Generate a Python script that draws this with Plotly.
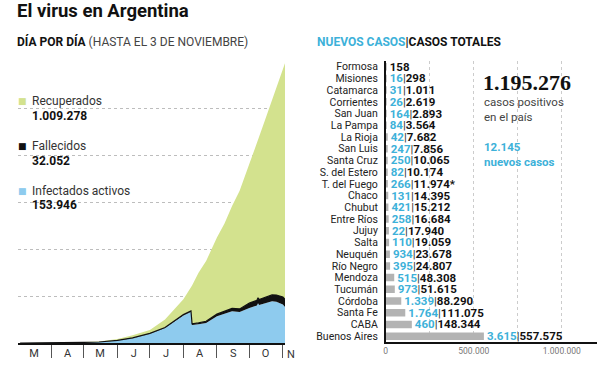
import plotly.graph_objects as go

# ---------------- Datos: evolución diaria ----------------
fechas = ["2020-03-03", "2020-03-15", "2020-04-01", "2020-04-15", "2020-05-01",
          "2020-05-15", "2020-06-01", "2020-06-15", "2020-07-01", "2020-07-15",
          "2020-08-01", "2020-08-08", "2020-08-09", "2020-08-15", "2020-08-22",
          "2020-09-01", "2020-09-08", "2020-09-15", "2020-09-22", "2020-10-01",
          "2020-10-08", "2020-10-09", "2020-10-10", "2020-10-15", "2020-10-22",
          "2020-10-26", "2020-11-01", "2020-11-03"]
activos = [1, 50, 800, 1700, 2800, 4100, 11000, 21000, 40000, 64000,
           118000, 133000, 77000, 80000, 86000, 114000, 126000, 136000, 132000, 150000,
           160000, 170000, 162000, 170000, 178000, 176000, 165000, 153946]
fallecidos = [0, 2, 27, 111, 218, 353, 539, 854, 1300, 2000,
              3600, 4600, 4700, 5800, 7000, 9300, 10700, 12100, 13700, 20300,
              22700, 23200, 23600, 25300, 27500, 28900, 31100, 32052]
recuperados = [0, 4, 227, 632, 1410, 2681, 5476, 10931, 14700, 34000,
               65400, 102400, 164300, 214200, 257000, 326700, 373300, 436900, 504300, 594700,
               667300, 676800, 694400, 749700, 834500, 885100, 973900, 1009278]

inicios_mes = ["2020-04-01", "2020-05-01", "2020-06-01", "2020-07-01",
               "2020-08-01", "2020-09-01", "2020-10-01", "2020-11-01"]
centros_mes = ["2020-03-16", "2020-04-16", "2020-05-16", "2020-06-16",
               "2020-07-16", "2020-08-16", "2020-09-16", "2020-10-16"]
letras_mes = ["M", "A", "M", "J", "J", "A", "S", "O"]

# ---------------- Datos: provincias ----------------
provincias = ["Formosa", "Misiones", "Catamarca", "Corrientes", "San Juan", "La Pampa",
              "La Rioja", "San Luis", "Santa Cruz", "S. del Estero", "T. del Fuego",
              "Chaco", "Chubut", "Entre Ríos", "Jujuy", "Salta", "Neuquén", "Río Negro",
              "Mendoza", "Tucumán", "Córdoba", "Santa Fe", "CABA", "Buenos Aires"]
nuevos = [None, 16, 31, 26, 164, 84, 42, 247, 250, 82, 266, 131, 421, 258, 22, 110,
          934, 395, 515, 973, 1339, 1764, 460, 3615]
totales = [158, 298, 1011, 2619, 2893, 3564, 7682, 7856, 10065, 10174, 11974, 14395,
           15212, 16684, 17940, 19059, 23678, 24807, 48308, 51615, 88290, 111075,
           148344, 557575]
notas = ["", "", "", "", "", "", "", "", "", "", "*", "", "", "", "", "", "", "", "",
         "", "", "", "", ""]

eje_x2_vals = [0, 500000, 1000000]
eje_x2_text = ["0", "500.000", "1.000.000"]

total_pais = 1195276
nuevos_pais = 12145

# ---------------- Estilos ----------------
FONT = "Roboto"
GREEN = "#d3e28e"
BLUE = "#8ecbee"
BLACK = "#111111"
CYAN = "#3db1d9"
GRAY = "#b3b3b3"
W, H = 600, 365


def fmt(n):
    return f"{n:,}".replace(",", ".")


def px_x(p):
    return p / W


def px_y(p):
    return 1 - p / H


textos = []
for n, t, a in zip(nuevos, totales, notas):
    if n is None:
        textos.append(fmt(t) + a)
    else:
        textos.append(f"<span style='color:{CYAN}'>{fmt(n)}</span>"
                      f"<span style='font-weight:normal;color:#333'>|</span>{fmt(t)}{a}")

fig = go.Figure()

fig.add_trace(go.Scatter(x=fechas, y=activos, stackgroup="one", mode="lines",
                         line=dict(width=0, color=BLUE), fillcolor=BLUE,
                         name="Infectados activos", xaxis="x", yaxis="y"))
fig.add_trace(go.Scatter(x=fechas, y=fallecidos, stackgroup="one", mode="lines",
                         line=dict(width=1.2, color=BLACK), fillcolor=BLACK,
                         name="Fallecidos", xaxis="x", yaxis="y"))
fig.add_trace(go.Scatter(x=fechas, y=recuperados, stackgroup="one", mode="lines",
                         line=dict(width=0, color=GREEN), fillcolor=GREEN,
                         name="Recuperados", xaxis="x", yaxis="y"))
# invisible trace carrying the month-letter axis
fig.add_trace(go.Scatter(x=[fechas[0]], y=[0], mode="markers", marker=dict(opacity=0),
                         hoverinfo="skip", showlegend=False, xaxis="x3", yaxis="y"))

fig.add_trace(go.Bar(x=totales, y=provincias, orientation="h", marker_color=GRAY,
                     marker_line_width=0, width=0.64,
                     text=textos, textposition="outside", constraintext="none",
                     cliponaxis=False,
                     textfont=dict(family=FONT, size=11.5, color=BLACK, weight="bold"),
                     xaxis="x2", yaxis="y2"))

fig.update_layout(
    width=W, height=H, margin=dict(l=0, r=0, t=0, b=0),
    paper_bgcolor="white", plot_bgcolor="white", showlegend=False,
    font=dict(family=FONT, color="#222"),
    xaxis=dict(domain=[px_x(16), px_x(284)], type="date",
               range=["2020-03-01", "2020-11-03"], anchor="y",
               showline=True, linecolor=BLACK, linewidth=1.5,
               tickmode="array", tickvals=inicios_mes, showticklabels=False,
               ticks="outside", ticklen=13, tickcolor="#555", tickwidth=1,
               showgrid=False, zeroline=False),
    xaxis3=dict(domain=[px_x(16), px_x(284)], type="date", overlaying="x",
                range=["2020-03-01", "2020-11-03"], anchor="y", side="bottom",
                showline=False, tickmode="array", tickvals=centros_mes,
                ticktext=letras_mes, ticks="", showgrid=False, zeroline=False,
                tickfont=dict(size=11, color="#333"), ticklabelstandoff=2),
    yaxis=dict(domain=[px_y(344), px_y(62)], range=[0, 1200000], anchor="x",
               showticklabels=False, showgrid=True, gridcolor="#bdbdbd",
               griddash="dot", gridwidth=1, tick0=0, dtick=200000,
               zeroline=False, showline=False, ticks=""),
    xaxis2=dict(domain=[px_x(385), px_x(597)], range=[0, 1200000], anchor="y2",
                showline=True, linecolor=BLACK, linewidth=1.5,
                tickmode="array", tickvals=eje_x2_vals, ticktext=eje_x2_text,
                ticks="", tickfont=dict(size=8.5, color="#777"),
                showgrid=True, gridcolor="#cccccc", griddash="dot", zeroline=False,
                minor=dict(tickmode="array", tickvals=[250000, 750000], showgrid=True,
                           gridcolor="#cccccc", griddash="dot", ticks="")),
    yaxis2=dict(domain=[px_y(343), px_y(61)], anchor="x2", autorange="reversed",
                showline=True, linecolor=BLACK, linewidth=1.5, ticks="",
                tickmode="array", tickvals=provincias,
                showgrid=False, tickfont=dict(size=10.5, color="#222"),
                ticklabelstandoff=4),
)

# White covers behind text blocks (hide gridlines as in the original)
fig.add_shape(type="rect", xref="paper", yref="paper",
              x0=px_x(16), x1=px_x(148), y0=px_y(218), y1=px_y(85),
              fillcolor="white", line=dict(width=0), layer="between")
fig.add_shape(type="rect", xref="paper", yref="paper",
              x0=px_x(478), x1=1, y0=px_y(184), y1=px_y(58),
              fillcolor="white", line=dict(width=0), layer="between")

ann = []


def add(text, x, y, size, color="#222", family=FONT, xanchor="left", yanchor="middle",
        **kw):
    ann.append(dict(text=text, x=x, y=y, xref="paper", yref="paper", showarrow=False,
                    xanchor=xanchor, yanchor=yanchor,
                    font=dict(size=size, color=color, family=family), **kw))


add("<b>El virus en Argentina</b>", px_x(13), px_y(11), 18.5, "#111")
add("<b>DÍA POR DÍA</b> <span style='color:#444'>(HASTA EL 3 DE NOVIEMBRE)</span>",
    px_x(13), px_y(42), 12, "#111")
add(f"<b><span style='color:{CYAN}'>NUEVOS CASOS</span>|CASOS TOTALES</b>",
    px_x(314), px_y(42), 12, "#111")

# Legend
leyenda = [("Recuperados", recuperados[-1], GREEN, 101.5),
           ("Fallecidos", fallecidos[-1], BLACK, 146.5),
           ("Infectados activos", activos[-1], BLUE, 191.5)]
for nombre, valor, color, yy in leyenda:
    add("■", px_x(14), px_y(yy), 9, color, family="DejaVu Sans")
    add(nombre, px_x(28), px_y(yy), 12, "#333")
    add(f"<b>{fmt(valor)}</b>", px_x(28), px_y(yy + 14.5), 12, "#111")

# Big number block
add(f"<b>{fmt(total_pais)}</b>", px_x(481), px_y(83), 22, "#111", family="Liberation Serif")
add("casos positivos", px_x(482), px_y(102), 11.5, "#444")
add("en el país", px_x(482), px_y(117.5), 11.5, "#444")
add(f"<b>{fmt(nuevos_pais)}</b>", px_x(482), px_y(147), 11.5, CYAN)
add("<b>nuevos casos</b>", px_x(482), px_y(162), 11.5, CYAN)

# "N" label after the last month tick
ann.append(dict(text="N", x="2020-11-03", y=px_y(355), xref="x", yref="paper",
                showarrow=False, xanchor="left", yanchor="middle", xshift=0,
                font=dict(size=11, color="#333", family=FONT)))

fig.update_layout(annotations=ann)
fig.write_html("out.html", config={"displayModeBar": False},
               post_script="document.body.style.margin='0';document.body.style.padding='0';")
